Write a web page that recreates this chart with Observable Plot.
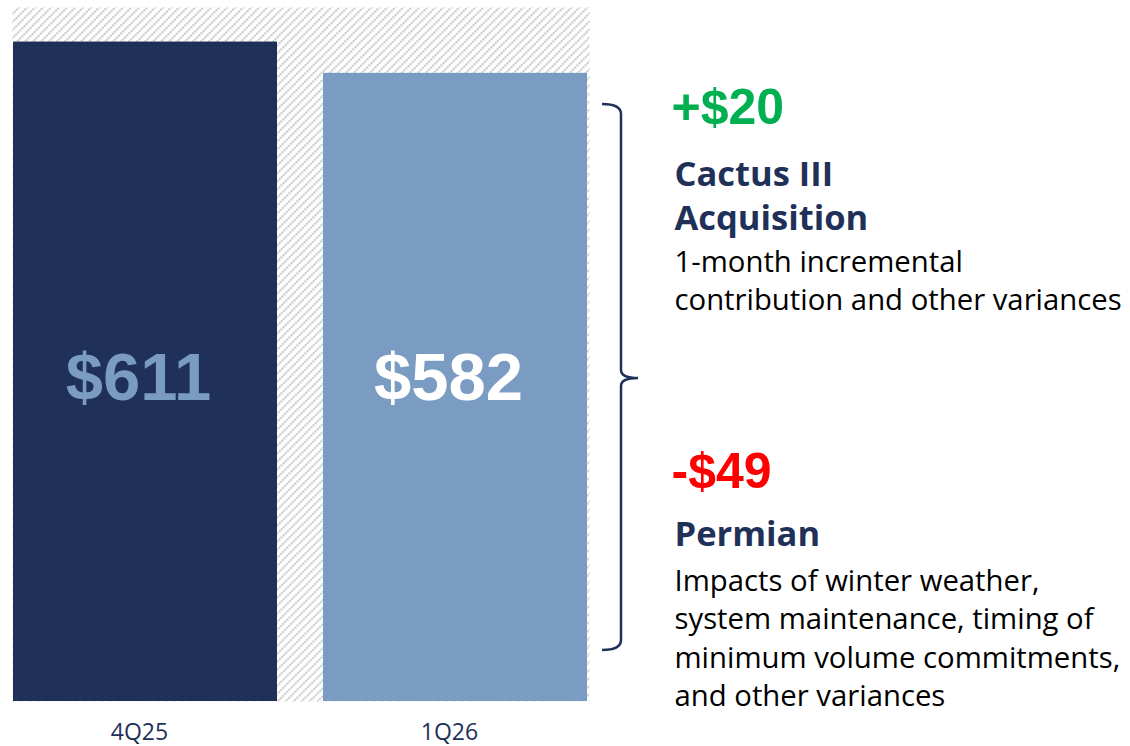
<!DOCTYPE html>
<html>
<head>
<meta charset="utf-8">
<script src="https://cdn.jsdelivr.net/npm/d3@7"></script>
<script src="https://cdn.jsdelivr.net/npm/@observablehq/plot@0.6"></script>
<style>
  html, body { margin: 0; padding: 0; background: #fff; }
  #chart { width: 1130px; height: 746px; overflow: hidden; }
</style>
</head>
<body>
<div id="chart"></div>
<script>
// ---- data ----
const quarters = ["4Q25", "1Q26"];
const ebitda = [611, 582];
const barLabels = ["$611", "$582"];
const barColors = ["#1f3158", "#7a9bc2"];
const barLabelColors = ["#7a9bc2", "#ffffff"];

const changeLabels = ["+$20", "-$49"];
const changeColors = ["#00b050", "#ff0000"];
const driverTitles = ["Cactus III\nAcquisition", "Permian"];
const driverNotes = [
  "1-month incremental\ncontribution and other variances",
  "Impacts of winter weather,\nsystem maintenance, timing of\nminimum volume commitments,\nand other variances"
];

const bars = quarters.map((q, i) => ({q, v: ebitda[i], label: barLabels[i], fill: barColors[i], lc: barLabelColors[i]}));

const navy = "#1f3158";
const W = 1130, H = 746;
const mL = 12, mT = 7, mB = 45, plotRight = 589;
const textFont = "'Open Sans', sans-serif";
const boldFont = "'Liberation Sans', Arial, sans-serif";
const annX = 675 - mL;
const titleFs = 34.5, noteFs = 29.3, changeFs = 50;

const chart = Plot.plot({
  width: W,
  height: H,
  marginLeft: mL,
  marginRight: W - plotRight,
  marginTop: mT,
  marginBottom: mB,
  style: {background: "#fff", overflow: "visible"},
  x: {domain: quarters, range: [12, 587], paddingInner: 0.15, paddingOuter: 0, label: null},
  y: {domain: [0, 643], axis: null},
  color: {type: "identity"},
  marks: [
    Plot.frame({fill: "url(#hatch)", stroke: null}),
    Plot.barY(bars, {x: "q", y: "v", fill: "fill"}),
    Plot.text(bars, {x: "q", frameAnchor: "middle", dx: -7, dy: 24, text: "label", fill: "lc",
      fontSize: 67, fontWeight: "bold", fontFamily: boldFont}),
    Plot.axisX({tickSize: 0, tickPadding: 22, dx: -6, fontSize: 23, color: navy, fontFamily: textFont}),
    // annotations on the right
    Plot.text([changeLabels[0]], {frameAnchor: "top-left", dx: annX - 4, dy: 123 - mT, lineAnchor: "bottom",
      text: d => d, fill: changeColors[0], fontSize: changeFs, fontWeight: "bold", fontFamily: boldFont}),
    Plot.text([driverTitles[0]], {frameAnchor: "top-left", dx: annX - 1, dy: 189 - titleFs - mT, lineAnchor: "top",
      lineHeight: 44 / titleFs, text: d => d, fill: navy, fontSize: titleFs, fontWeight: "bold", fontFamily: textFont}),
    Plot.text([driverNotes[0]], {frameAnchor: "top-left", dx: annX - 1, dy: 273 - noteFs - mT, lineAnchor: "top",
      lineHeight: 38.5 / noteFs, text: d => d, fill: "#000", fontSize: noteFs, fontFamily: textFont}),
    Plot.text([changeLabels[1]], {frameAnchor: "top-left", dx: annX - 4, dy: 487 - mT, lineAnchor: "bottom",
      text: d => d, fill: changeColors[1], fontSize: changeFs, fontWeight: "bold", fontFamily: boldFont}),
    Plot.text([driverTitles[1]], {frameAnchor: "top-left", dx: annX - 1, dy: 549 - titleFs - mT, lineAnchor: "top",
      lineHeight: 44 / titleFs, text: d => d, fill: navy, fontSize: titleFs, fontWeight: "bold", fontFamily: textFont}),
    Plot.text([driverNotes[1]], {frameAnchor: "top-left", dx: annX - 1, dy: 592 - noteFs - mT, lineAnchor: "top",
      lineHeight: 38.5 / noteFs, text: d => d, fill: "#000", fontSize: noteFs, fontFamily: textFont})
  ]
});

// hatch pattern definition
const svg = d3.select(chart);
const defs = svg.insert("defs", ":first-child");
const pat = defs.append("pattern")
  .attr("id", "hatch").attr("patternUnits", "userSpaceOnUse")
  .attr("width", 5.66).attr("height", 6)
  .attr("patternTransform", "rotate(45)");
pat.append("rect").attr("width", 5.66).attr("height", 6).attr("fill", "#ffffff");
pat.append("line").attr("x1", 1).attr("y1", 0).attr("x2", 1).attr("y2", 6)
  .attr("stroke", "#cdcdcd").attr("stroke-width", 2.2).attr("stroke-dasharray", "2.2 0.8");

// bracket
svg.append("path")
  .attr("d", "M602,104 Q621,104 621,114 L621,370 Q621,378 638,378 Q621,378 621,386 L621,640 Q621,650 602,650")
  .attr("fill", "none").attr("stroke", navy).attr("stroke-width", 2.5);

document.getElementById("chart").appendChild(chart);
</script>
</body>
</html>
